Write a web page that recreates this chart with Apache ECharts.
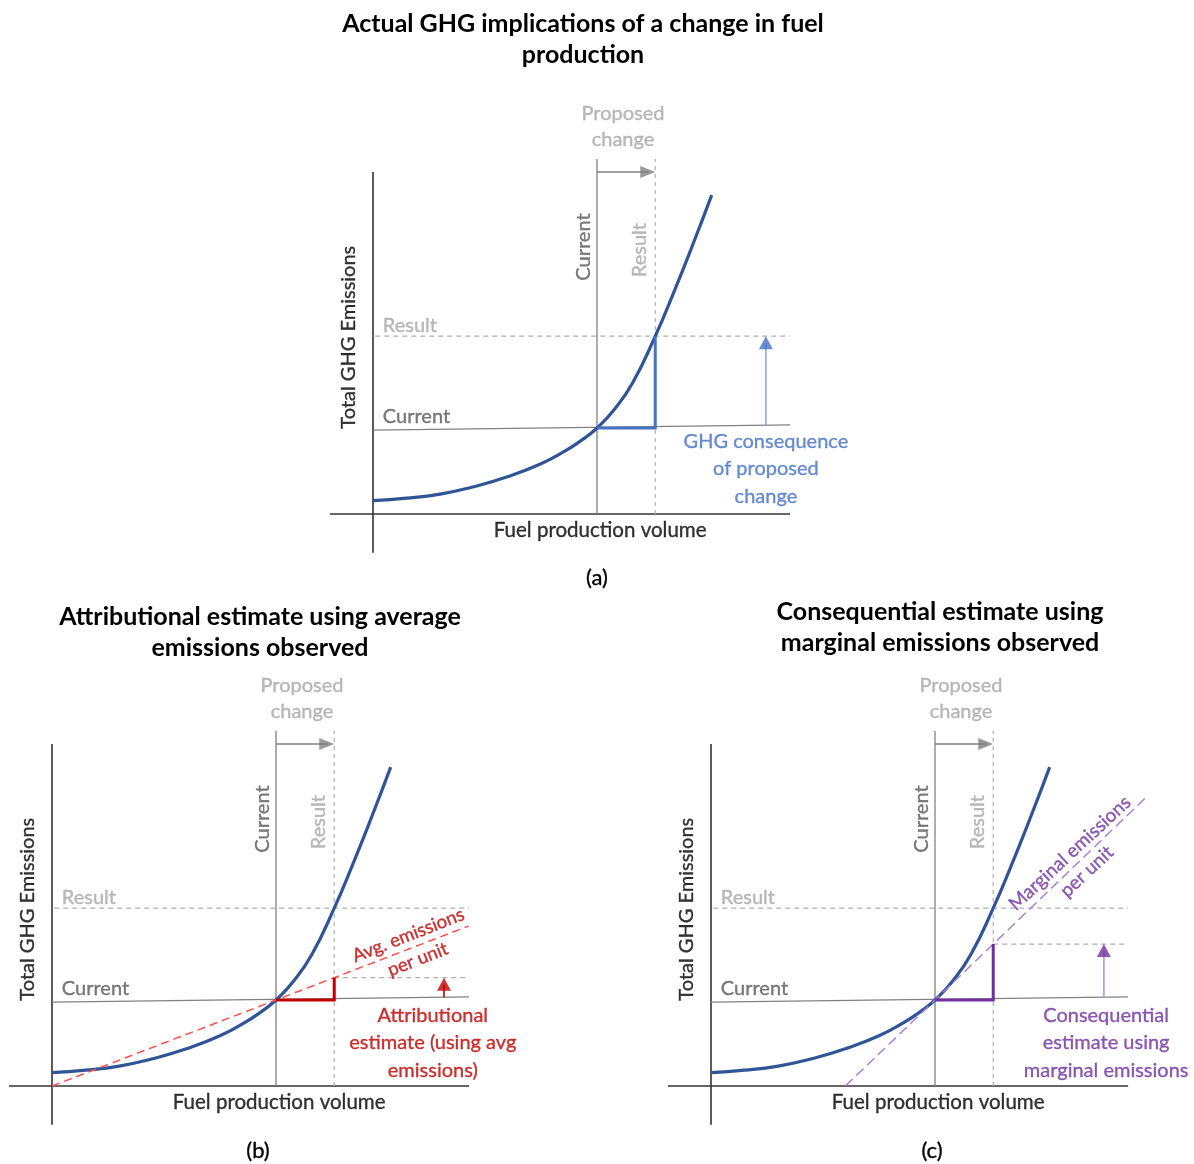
<!DOCTYPE html>
<html>
<head>
<meta charset="utf-8">
<title>GHG implications of a change in fuel production</title>
<script src="https://cdn.jsdelivr.net/npm/echarts@6/dist/echarts.min.js"></script>
<style>
  html, body { margin: 0; padding: 0; background: #ffffff; }
  #main { width: 1194px; height: 1164px; }
</style>
</head>
<body>
<div id="main"></div>
<script>
// ---- Emissions curve (conceptual units: fuel volume vs total GHG) ----
const curveX = [0, 7.5, 15, 22.5, 30, 37.5, 43, 46.5, 50, 54, 58, 63, 67, 71.5, 75.6];
const curveY = [3.9, 4.6, 5.8, 7.9, 10.8, 14.6, 18.4, 21.4, 25, 30.6, 38.2, 51.7, 64.0, 78.7, 92.7];

// Operating points before and after the proposed change
const currentPoint = [50, 25];
const resultPoint = [63, 51.7];

// Estimate lines: average (through origin) and marginal (tangent at current)
const avgLine = [[0, 0], [93, 46.5]];
const avgEstimate = 31.5;
const marginalLine = [[30, 0], [97.5, 84.4]];
const marginalEstimate = 41.25;

// Extents of the drawn axes and guide lines
const xAxisSpan = [-9.6, 93.1];
const yAxisSpan = [-11.3, 99.4];
const currentLevelLine = [[0, 24.4], [93.1, 25.9]];
const guideTop = 103.2;
const changeArrowLevel = 99.4;
const consequenceArrowX = [87.7, 87.5, 87.7];

// ---- Text ----
const panelTitles = [
  'Actual GHG implications of a change in fuel\nproduction',
  'Attributional estimate using average\nemissions observed',
  'Consequential estimate using\nmarginal emissions observed'
];
const panelTags = ['(a)', '(b)', '(c)'];
const xTitle = 'Fuel production volume';
const yTitle = 'Total GHG Emissions';
const levelLabels = ['Current', 'Result'];
const changeLabel = 'Proposed\nchange';
const estimateLabels = [
  'GHG consequence\nof proposed\nchange',
  'Attributional\nestimate (using avg\nemissions)',
  'Consequential\nestimate using\nmarginal emissions'
];
const slopeLabels = [null, 'Avg. emissions\nper unit', 'Marginal emissions\nper unit'];

// ---- Layout (pixels per unit and panel origins) ----
const pxX = 4.48, pxY = 3.44;
const origins = [[373, 514], [52, 1086], [711, 1086]];
const xMin = -10, xMax = 100, yMin = -12, yMax = 120;
const titleCenters = [[583, 39.5], [260, 632.5], [940, 627.5]];
const tagCenters = [[597, 578], [258, 1151], [932, 1151]];
const labelAt = {
  change: [55.8, 112.6],
  currentV: [46.9, 77.6],
  resultV: [59.6, 76.7],
  resultH: [2.2, 54.7],
  currentH: [2.2, 28.4],
  yTitle: [-5.5, 51.4],
  xTitle: [50.7, -4.9],
  estimate: [[87.7, 13.2], [85.0, 12.5], [88.2, 12.5]],
  slope: [null, [80.6, 40.3], [82.0, 65.0]],
  slopeRotate: [0, 21.5, 42.8]
};

const FONT = 'Lato, "Noto Sans", sans-serif';
const accent = ['#4472C4', '#C00000', '#7030A0'];
const accentLight = ['#8FAADC', '#C00000', '#B495D6'];
const GREY_DARK = '#595959', GREY_LINE = '#808080', GREY_DASH = '#AFAFAF', GREY_TEXT = '#A6A6A6';

function seg(gi, pts, color, width, dash, z) {
  return {
    type: 'line', xAxisIndex: gi, yAxisIndex: gi, data: pts, symbol: 'none',
    silent: true, z: z || 2, animation: false,
    lineStyle: { color: color, width: width, type: dash || 'solid', cap: 'butt', join: 'miter' }
  };
}
function head(gi, pt, color, size, rotate, offset) {
  return {
    type: 'scatter', xAxisIndex: gi, yAxisIndex: gi, data: [pt], symbol: 'triangle',
    symbolSize: size, symbolRotate: rotate || 0, symbolOffset: offset,
    itemStyle: { color: color }, silent: true, z: 6, animation: false
  };
}
function text(gi, pt, str, opts) {
  const o = Object.assign({
    show: true, position: 'inside', formatter: str, fontFamily: FONT, fontSize: 20,
    color: '#000', align: 'center', verticalAlign: 'middle'
  }, opts);
  // a hairline outline in the text colour gives the strokes a little more weight
  o.textBorderColor = o.color;
  o.textBorderWidth = 0.35;
  return {
    type: 'scatter', xAxisIndex: gi, yAxisIndex: gi, data: [pt], symbolSize: 1,
    itemStyle: { color: 'rgba(0,0,0,0)' }, silent: true, z: 7, animation: false,
    label: o
  };
}

const grids = [], xAxes = [], yAxes = [], series = [];
origins.forEach(function (o, gi) {
  grids.push({
    left: o[0] + xMin * pxX, top: o[1] - yMax * pxY,
    width: (xMax - xMin) * pxX, height: (yMax - yMin) * pxY,
    outerBoundsMode: 'none', containLabel: false
  });
  xAxes.push({ type: 'value', gridIndex: gi, min: xMin, max: xMax, show: false });
  yAxes.push({ type: 'value', gridIndex: gi, min: yMin, max: yMax, show: false });

  const estTop = [resultPoint[1], avgEstimate, marginalEstimate][gi];

  // axes
  series.push(seg(gi, [[xAxisSpan[0], 0], [xAxisSpan[1], 0]], '#333333', 1.6));
  series.push(seg(gi, [[0, yAxisSpan[0]], [0, yAxisSpan[1]]], '#333333', 1.6));
  // current / result guides
  series.push(seg(gi, [[currentPoint[0], 0], [currentPoint[0], guideTop]], GREY_LINE, 1.3));
  series.push(seg(gi, [[resultPoint[0], 0], [resultPoint[0], guideTop]], GREY_DASH, 1.2, [4, 4]));
  series.push(seg(gi, currentLevelLine, GREY_LINE, 1.3));
  series.push(seg(gi, [[0.5, resultPoint[1]], [xAxisSpan[1], resultPoint[1]]], GREY_DASH, 1.2, [5, 4]));
  if (gi > 0) {
    series.push(seg(gi, [[resultPoint[0], estTop], [xAxisSpan[1], estTop]], GREY_DASH, 1.2, [5, 4]));
  }
  // proposed change arrow
  series.push(seg(gi, [[currentPoint[0], changeArrowLevel], [resultPoint[0] - 1.5, changeArrowLevel]], GREY_LINE, 1.6));
  series.push(head(gi, [resultPoint[0], changeArrowLevel], GREY_LINE, [12, 15], -90, [-7.5, 0]));

  // emissions curve
  series.push({
    type: 'line', xAxisIndex: gi, yAxisIndex: gi, symbol: 'none', silent: true, z: 3,
    animation: false, smooth: 0.5,
    data: curveX.map(function (x, i) { return [x, curveY[i]]; }),
    lineStyle: { color: '#2F5597', width: 3.2 }
  });

  // estimate line
  if (gi === 1) series.push(seg(gi, avgLine, '#FF4D4D', 1.5, [8, 5], 4));
  if (gi === 2) series.push(seg(gi, marginalLine, '#A57BD8', 1.4, [10, 5], 4));

  // step triangle: change in volume and change in emissions
  series.push(seg(gi, [currentPoint, [resultPoint[0], currentPoint[1]], [resultPoint[0], estTop]], accent[gi], 3, 'solid', 5));

  // consequence arrow
  const ax = consequenceArrowX[gi];
  series.push(seg(gi, [[ax, 25.8], [ax, estTop - 2]], accentLight[gi], 1.6, 'solid', 5));
  series.push(head(gi, [ax, estTop], accent[gi], [14, 13], 0, [0, 6.5]));

  // labels
  series.push(text(gi, labelAt.change, changeLabel, { color: GREY_TEXT, lineHeight: 26 }));
  series.push(text(gi, labelAt.currentV, levelLabels[0], { color: GREY_DARK, rotate: 90 }));
  series.push(text(gi, labelAt.resultV, levelLabels[1], { color: GREY_TEXT, rotate: 90 }));
  series.push(text(gi, labelAt.resultH, levelLabels[1], { color: GREY_TEXT, align: 'left' }));
  series.push(text(gi, labelAt.currentH, levelLabels[0], { color: GREY_DARK, align: 'left' }));
  series.push(text(gi, labelAt.yTitle, yTitle, { rotate: 90, fontSize: 20 }));
  series.push(text(gi, labelAt.xTitle, xTitle, { fontSize: 20.5 }));
  series.push(text(gi, labelAt.estimate[gi], estimateLabels[gi], { color: accent[gi], lineHeight: 27.5 }));
  if (slopeLabels[gi]) {
    series.push(text(gi, labelAt.slope[gi], slopeLabels[gi], {
      color: gi === 1 ? '#C00000' : '#7030A0', fontSize: gi === 1 ? 18.5 : 19,
      lineHeight: gi === 1 ? 26 : 25, rotate: labelAt.slopeRotate[gi]
    }));
  }
});

const graphics = [];
panelTitles.forEach(function (t, i) {
  graphics.push({
    type: 'text', x: titleCenters[i][0], y: titleCenters[i][1], silent: true,
    style: { text: t, fontFamily: FONT, fontSize: 25, fontWeight: 'bold', fill: '#000',
      align: 'center', verticalAlign: 'middle', lineHeight: 31 }
  });
  graphics.push({
    type: 'text', x: tagCenters[i][0], y: tagCenters[i][1], silent: true,
    style: { text: panelTags[i], fontFamily: FONT, fontSize: 22, fill: '#000',
      stroke: '#000', lineWidth: 0.35, align: 'center', verticalAlign: 'middle' }
  });
});

const chart = echarts.init(document.getElementById('main'));
chart.setOption({
  animation: false,
  backgroundColor: '#ffffff',
  grid: grids,
  xAxis: xAxes,
  yAxis: yAxes,
  series: series,
  graphic: graphics
});
</script>
</body>
</html>
